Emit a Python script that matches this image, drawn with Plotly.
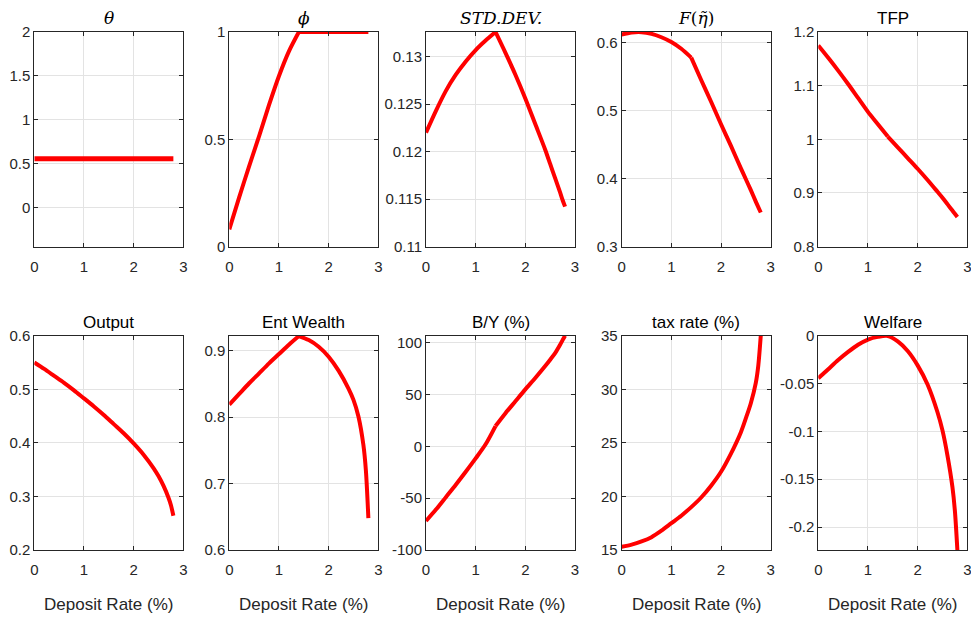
import plotly.graph_objects as go

x = [0, 0.2, 0.4, 0.6, 0.8, 1.0, 1.2, 1.4, 1.6, 1.8, 2.0, 2.2, 2.4, 2.5, 2.6, 2.7, 2.75, 2.8]

theta = [0.553] * 18
phi = [0.08, 0.23, 0.375, 0.515, 0.66, 0.795, 0.91, 1.0, 1.0, 1.0, 1.0, 1.0, 1.0, 1.0, 1.0, 1.0, 1.0, 1.0]
std_dev = [0.1220, 0.1243, 0.1264, 0.1281, 0.1295, 0.1307, 0.1317, 0.1326, 0.1304, 0.1281, 0.1256,
           0.1229, 0.1202, 0.1187, 0.1172, 0.1157, 0.1149, 0.1142]
f_eta = [0.612, 0.615, 0.6155, 0.613, 0.608, 0.601, 0.591, 0.578, 0.545, 0.513, 0.480, 0.448, 0.415,
         0.399, 0.383, 0.366, 0.358, 0.350]
tfp = [1.175, 1.152, 1.128, 1.103, 1.077, 1.051, 1.028, 1.005, 0.985, 0.965, 0.945, 0.924, 0.902,
       0.891, 0.879, 0.867, 0.861, 0.855]
output = [0.550, 0.538, 0.525, 0.512, 0.498, 0.483, 0.468, 0.452, 0.435, 0.418, 0.399, 0.378, 0.353,
          0.338, 0.320, 0.298, 0.284, 0.264]
ent_wealth = [0.819, 0.835, 0.851, 0.866, 0.881, 0.895, 0.909, 0.922, 0.916, 0.906, 0.891, 0.870, 0.843,
              0.826, 0.801, 0.758, 0.720, 0.648]
b_y = [-72, -61, -49, -37, -24.5, -11.6, 2, 19.6, 32, 43.5, 55, 66, 77.5, 83.6, 90, 98, 102.5, 106.8]
tax_rate = [15.3, 15.5, 15.8, 16.2, 16.8, 17.5, 18.2, 19.0, 19.9, 21.0, 22.3, 24.0, 26.0, 27.3, 28.7,
            30.6, 32.2, 35.0]
welfare = [-0.0445, -0.035, -0.0255, -0.017, -0.0095, -0.004, -0.0012, -0.0003, -0.006, -0.016, -0.031,
           -0.051, -0.080, -0.099, -0.125, -0.158, -0.183, -0.224]

series = [theta, phi, std_dev, f_eta, tfp, output, ent_wealth, b_y, tax_rate, welfare]
titles = ["<i>θ</i>", "<i>ϕ</i>", "<i>STD.DEV.</i>", "<i>F</i>(<i>η̃</i>)", "TFP",
          "Output", "Ent Wealth", "B/Y (%)", "tax rate (%)", "Welfare"]
math_title = [True, True, True, True, False, False, False, False, False, False]
has_kink = [False, True, True, True, True, False, True, True, False, False]
KINK = 7  # index of x = 1.4
y_ranges = [[-0.447, 2], [0, 1], [0.11, 0.1326], [0.3, 0.6157], [0.8, 1.2],
            [0.2, 0.6], [0.6, 0.9226], [-100, 106.8], [15, 35], [-0.224, 0]]
y_ticks = [[0, 0.5, 1, 1.5, 2], [0, 0.5, 1], [0.11, 0.115, 0.12, 0.125, 0.13], [0.3, 0.4, 0.5, 0.6],
           [0.8, 0.9, 1, 1.1, 1.2], [0.2, 0.3, 0.4, 0.5, 0.6], [0.6, 0.7, 0.8, 0.9],
           [-100, -50, 0, 50, 100], [15, 20, 25, 30, 35], [-0.2, -0.15, -0.1, -0.05, 0]]
x_label = "Deposit Rate (%)"
x_ticks = [0, 1, 2, 3]

W, H = 971, 619
lefts = [34.3, 229.3, 426.0, 621.7, 818.3]
width = 149.0
row_tb = [(32.0, 246.5), (335.7, 550.0)]

FONT = "Liberation Sans, Arial, sans-serif"
SERIF = "DejaVu Serif, Liberation Serif, serif"

fig = go.Figure()
annotations = []
for i in range(10):
    r, c = divmod(i, 5)
    n = i + 1
    xa = "x" if n == 1 else f"x{n}"
    ya = "y" if n == 1 else f"y{n}"
    lw = 5 if i == 0 else 4
    ys = series[i]
    if has_kink[i]:
        parts = [(x[:KINK + 1], ys[:KINK + 1]), (x[KINK:], ys[KINK:])]
    else:
        parts = [(x, ys)]
    for px, py in parts:
        fig.add_trace(go.Scatter(x=px, y=py, mode="lines", xaxis=xa, yaxis=ya,
                                 line=dict(color="#ff0000", width=lw, shape="spline", smoothing=0.8),
                                 showlegend=False, hoverinfo="skip"))
    x0 = lefts[c] / W
    x1 = (lefts[c] + width) / W
    top, bot = row_tb[r]
    y0 = 1 - bot / H
    y1 = 1 - top / H
    common = dict(showline=True, linecolor="#262626", linewidth=1, mirror="ticks",
                  ticks="inside", ticklen=4, tickcolor="#262626", showgrid=True,
                  gridcolor="#e3e3e3", gridwidth=1, zeroline=False, automargin=False,
                  ticklabeloverflow="allow",
                  tickfont=dict(family=FONT, size=15, color="#262626"))
    fig.layout[f"xaxis{'' if n == 1 else n}"] = dict(
        domain=[x0, x1], anchor=ya, range=[0, 3], tickvals=x_ticks,
        ticktext=[str(t) for t in x_ticks], ticklabelstandoff=6, **common)
    fig.layout[f"yaxis{'' if n == 1 else n}"] = dict(
        domain=[y0, y1], anchor=xa, range=y_ranges[i], tickvals=y_ticks[i],
        ticktext=[f"{t:g}" for t in y_ticks[i]], **common)
    annotations.append(dict(
        text=titles[i], x=(x0 + x1) / 2, y=y1, xref="paper", yref="paper",
        xanchor="center", yanchor="bottom", yshift=2, showarrow=False,
        font=dict(family=SERIF if math_title[i] else FONT, size=17, color="black")))
    if r == 1:
        annotations.append(dict(
            text=x_label, x=(x0 + x1) / 2, y=y0, xref="paper", yref="paper",
            xanchor="center", yanchor="top", yshift=-43, showarrow=False,
            font=dict(family=FONT, size=17, color="#262626")))

fig.update_layout(width=W, height=H, margin=dict(l=0, r=0, t=0, b=0, autoexpand=False),
                  paper_bgcolor="white", plot_bgcolor="white", hovermode=False,
                  annotations=annotations)
fig.write_html("out.html", config={"displayModeBar": False},
               post_script="document.body.style.margin='0';document.body.style.overflow='hidden';")
